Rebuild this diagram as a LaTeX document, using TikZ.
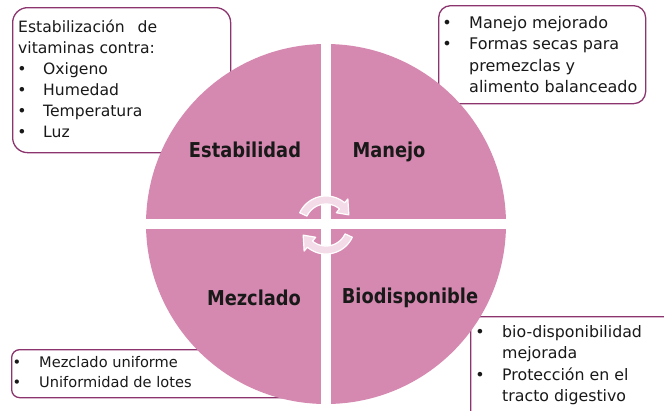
\documentclass[tikz,border=0pt]{standalone}
\usepackage{fontspec}
\setmainfont{DejaVu Sans}
\newfontfamily\lblfont{DejaVu Sans}[FakeStretch=0.87]
\definecolor{pinkq}{RGB}{214,137,176}
\definecolor{boxline}{RGB}{139,52,110}
\definecolor{arrowfill}{RGB}{243,219,231}
\begin{document}
\begin{tikzpicture}[x=1pt,y=-1pt,
  box/.style={draw=boxline, line width=1.3pt, fill=white, inner sep=0pt, anchor=north west},
  quad/.style={font=\lblfont\bfseries\fontsize{20.5}{24}\selectfont, text=black!90, inner sep=0pt, anchor=base},
  bt/.style={inner sep=0pt, anchor=base west, text=black!90},
  bul/.style={inner sep=0pt, anchor=base, text=black!90},
  cyc/.style={fill=arrowfill, draw=white, line width=1.2pt, line join=round}]
\useasboundingbox (0,0) rectangle (664,410);
\clip (0,0) rectangle (664,410);
% boxes
\node[box, rounded corners=15pt, minimum width=218pt, minimum height=145pt] (boxTL) at (12,7) {};
\node[box, rounded corners=12pt, minimum width=207pt, minimum height=98pt] (boxTR) at (438,5) {};
\node[box, rounded corners=8pt, minimum width=289pt, minimum height=48pt] (boxBL) at (11,349) {};
\node[box, rounded corners=10pt, minimum width=230pt, minimum height=110pt] (boxBR) at (470,316) {};
% circle
\node[circle, fill=pinkq, minimum size=360pt, inner sep=0pt] (circ) at (326,224) {};
\begin{scope}
  \clip (326,224) circle[radius=181];
  \fill[white] (321,30) rectangle (331,420);
  \fill[white] (130,219) rectangle (520,229);
\end{scope}
% cycle arrows
\path[cyc, shift={(326,225)}] plot[domain=205:310, samples=40] (\x:29) -- (310:34) -- (336:25) -- (310:16) -- (310:21) -- plot[domain=310:205, samples=40] (\x:21) -- cycle;
\path[cyc, shift={(326,225)}] plot[domain=25:130, samples=40] (\x:29) -- (130:34) -- (156:25) -- (130:16) -- (130:21) -- plot[domain=130:25, samples=40] (\x:21) -- cycle;
% quadrant labels
\node[quad] (lEst) at (245,157) {Estabilidad};
\node[quad] (lMan) at (389,157) {Manejo};
\node[quad] (lMez) at (254,305) {Mezclado};
\node[quad] (lBio) at (410,303) {Biodisponible};
% top-left text
\begin{scope}[every node/.append style={font=\fontsize{15.6}{19}\selectfont}]
\node[bt] (tl1) at (18,32) {\makebox[139pt][s]{Estabilización de}};
\node[bt] (tl2) at (18,53) {vitaminas contra:};
\foreach \y/\t [count=\i] in {74/Oxigeno, 95/Humedad, 116/Temperatura, 137/Luz}{
  \node[bul] (tlb\i) at (22,\y) {•};
  \node[bt] (tlt\i) at (43,\y) {\t};
}
\end{scope}
% top-right text
\begin{scope}[every node/.append style={font=\fontsize{16}{19}\selectfont}]
\node[bul] (trb1) at (447,28) {•};
\node[bul] (trb2) at (447,49) {•};
\node[bt] (tr1) at (469,28) {Manejo mejorado};
\node[bt] (tr2) at (469,49) {Formas secas para};
\node[bt] (tr3) at (469,71) {premezclas y};
\node[bt] (tr4) at (469,92) {alimento balanceado};
\end{scope}
% bottom-left text
\begin{scope}[every node/.append style={font=\fontsize{14.6}{18}\selectfont}]
\node[bul] (blb1) at (17,367) {•};
\node[bul] (blb2) at (17,387) {•};
\node[bt] (bl1) at (39,367) {Mezclado uniforme};
\node[bt] (bl2) at (39,387) {Uniformidad de lotes};
\end{scope}
% bottom-right text
\begin{scope}[every node/.append style={font=\fontsize{15.8}{19}\selectfont}]
\node[bul] (brb1) at (480,337) {•};
\node[bul] (brb2) at (480,380) {•};
\node[bt] (br1) at (502,337) {bio-disponibilidad};
\node[bt] (br2) at (502,358) {mejorada};
\node[bt] (br3) at (502,380) {Protección en el};
\node[bt] (br4) at (502,401) {tracto digestivo};
\end{scope}
\end{tikzpicture}
\end{document}
